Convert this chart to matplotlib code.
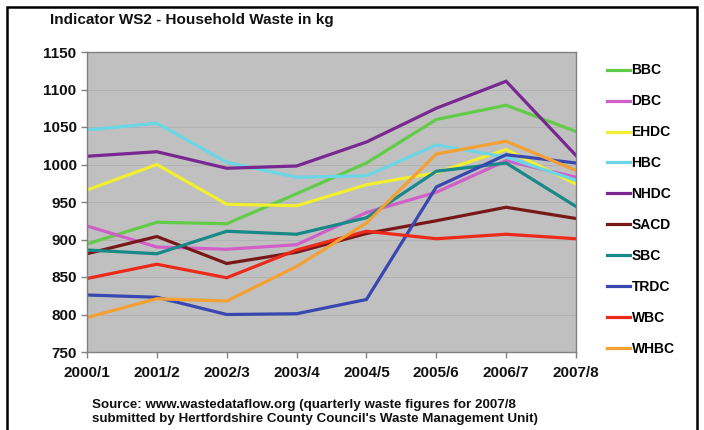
import numpy as np
import matplotlib
matplotlib.use("Agg")
import matplotlib.pyplot as plt
from matplotlib.patches import Rectangle

plt.rcParams['font.family'] = ['Liberation Sans', 'DejaVu Sans']

years = ['2000/1', '2001/2', '2002/3', '2003/4', '2004/5', '2005/6', '2006/7', '2007/8']

bbc = [894, 923, 921, 961, 1002, 1060, 1079, 1044]
dbc = [918, 890, 887, 893, 936, 963, 1005, 983]
ehdc = [966, 1000, 947, 945, 973, 989, 1020, 974]
hbc = [1046, 1055, 1003, 983, 985, 1026, 1010, 979]
nhdc = [1011, 1017, 995, 998, 1030, 1075, 1111, 1012]
sacd = [881, 904, 868, 883, 908, 925, 943, 928]
sbc = [886, 881, 911, 907, 929, 991, 1002, 944]
trdc = [826, 823, 800, 801, 820, 970, 1013, 1002]
wbc = [848, 867, 849, 886, 911, 901, 907, 901]
whbc = [796, 821, 818, 864, 922, 1014, 1031, 992]

names = ['BBC', 'DBC', 'EHDC', 'HBC', 'NHDC', 'SACD', 'SBC', 'TRDC', 'WBC', 'WHBC']
series = [bbc, dbc, ehdc, hbc, nhdc, sacd, sbc, trdc, wbc, whbc]
colors = ['#62cc48', '#d060c8', '#f2ee30', '#6ad6e6', '#782890',
          '#781818', '#188888', '#3848b0', '#ec2a1a', '#f4a032']

fig = plt.figure(figsize=(7.04, 4.30), dpi=100)
ax = fig.add_axes([87/704, 1 - 352/430, (576 - 87)/704, (352 - 52)/430])
ax.set_facecolor('#c0c0c0')

x = np.arange(len(years))
for vals, name, col in zip(series, names, colors):
    ax.plot(x, vals, color=col, linewidth=2.3, label=name, solid_joinstyle='miter')

ax.set_xlim(0, len(years) - 1)
ax.set_ylim(750, 1150)
ax.set_yticks(np.arange(750, 1151, 50))
ax.set_xticks(x)
ax.set_xticklabels(years)
ax.yaxis.grid(True, color='#b2b2b2', linewidth=0.7)
ax.set_axisbelow(True)
for s in ax.spines.values():
    s.set_color('#808080')
    s.set_linewidth(1.0)
ax.tick_params(axis='both', colors='#808080', length=4, width=1,
               labelcolor='#111111', labelsize=11)
ax.tick_params(axis='x', pad=6)
for lab in ax.get_xticklabels() + ax.get_yticklabels():
    lab.set_fontweight('bold')

leg = fig.legend(loc='upper left', bbox_to_anchor=(594/704, 1 - 51/430),
                 frameon=False, handlelength=1.7, handletextpad=0.1,
                 labelspacing=1.22, prop={'weight': 'bold', 'size': 10})
for line in leg.get_lines():
    line.set_linewidth(2.3)

fig.text(50/704, 1 - 20/430, 'Indicator WS2 - Household Waste in kg',
         fontsize=11, fontweight='bold', va='center', ha='left', color='#111111')
fig.text(92/704, 1 - 412/430,
         "Source: www.wastedataflow.org (quarterly waste figures for 2007/8\n"
         "submitted by Hertfordshire County Council's Waste Management Unit)",
         fontsize=9.65, fontweight='bold', va='center', ha='left', color='#111111',
         linespacing=1.2)

fig.patches.append(Rectangle((7/704, -0.05), (697 - 7)/704, 1 - 7/430 + 0.05,
                             transform=fig.transFigure, fill=False,
                             edgecolor='black', linewidth=1.8))

fig.savefig('out.png', dpi=100)
